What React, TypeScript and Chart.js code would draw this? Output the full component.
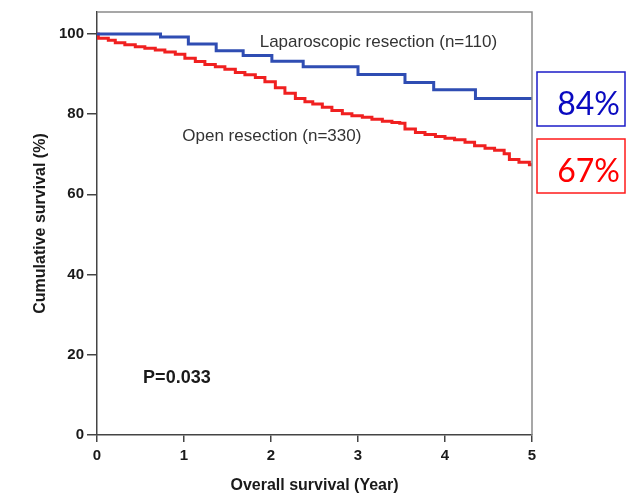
import React, { useEffect, useRef } from "react";
import { Chart, registerables } from "chart.js";

Chart.register(...registerables);

// Kaplan–Meier curves (time in years, survival in %)
const lapTimes = [0, 0.73, 1.05, 1.37, 1.68, 2.01, 2.37, 3.0, 3.54, 3.87, 4.35, 5.0];
const lapSurv = [100, 99.2, 97.5, 95.8, 94.6, 93.2, 91.8, 89.9, 87.9, 86.1, 83.9, 83.9];

const openTimes = [
  0, 0.015, 0.13, 0.21, 0.32, 0.44, 0.55, 0.67, 0.78, 0.9, 1.01, 1.13, 1.24, 1.36, 1.47, 1.59, 1.7, 1.82, 1.93,
  2.05, 2.16, 2.28, 2.39, 2.48, 2.59, 2.7, 2.82, 2.93, 3.05, 3.16, 3.28, 3.39, 3.48, 3.54, 3.66, 3.77, 3.89,
  4.0, 4.11, 4.23, 4.34, 4.46, 4.57, 4.68, 4.74, 4.85, 4.97, 5.0,
];
const openSurv = [
  100, 98.9, 98.4, 97.8, 97.3, 96.8, 96.4, 96.0, 95.5, 94.9, 93.9, 93.1, 92.4, 91.8, 91.2, 90.4, 89.8, 89.1, 88.1,
  86.6, 85.2, 83.9, 83.1, 82.5, 81.7, 80.9, 80.1, 79.6, 79.2, 78.7, 78.2, 77.9, 77.7, 76.3, 75.4, 74.9, 74.4,
  74.0, 73.6, 73.0, 72.1, 71.5, 71.0, 70.1, 68.7, 68.0, 67.4, 67.4,
];

const xTicks = [0, 1, 2, 3, 4, 5];
const yTicks = [0, 20, 40, 60, 80, 100];

const seriesLabels = ["Laparoscopic resection (n=110)", "Open resection (n=330)"];
const labelPositions = [
  [1.87, 97.8],
  [0.98, 74.4],
];
const pValueText = "P=0.033";
const pValuePos = [0.53, 14.1];
const finalLabels = ["84%", "67%"];

const BLUE = "#2f4db3";
const RED = "#f02020";

const toPoints = (xs: number[], ys: number[]) => xs.map((x, i) => ({ x, y: ys[i] }));

const decorPlugin = {
  id: "decor",
  afterDraw(chart: any) {
    const { ctx, chartArea, scales } = chart;
    const xs = scales.x;
    const ys = scales.y;
    ctx.save();
    // top & right frame
    ctx.strokeStyle = "#8a8a8a";
    ctx.lineWidth = 1.5;
    ctx.beginPath();
    ctx.moveTo(chartArea.left, chartArea.top);
    ctx.lineTo(chartArea.right, chartArea.top);
    ctx.lineTo(chartArea.right, chartArea.bottom);
    ctx.stroke();

    // series labels
    ctx.fillStyle = "#333";
    ctx.font = "17px 'Liberation Sans', Arial, sans-serif";
    ctx.textAlign = "left";
    ctx.textBaseline = "middle";
    seriesLabels.forEach((t, i) => {
      ctx.fillText(t, xs.getPixelForValue(labelPositions[i][0]), ys.getPixelForValue(labelPositions[i][1]));
    });
    ctx.fillStyle = "#1a1a1a";
    ctx.font = "bold 18px 'Liberation Sans', Arial, sans-serif";
    ctx.fillText(pValueText, xs.getPixelForValue(pValuePos[0]), ys.getPixelForValue(pValuePos[1]));

    // final survival boxes
    const boxColors = [["#1c1cc8", "#0a0ac0"], ["#ff1a1a", "#ff0000"]];
    const boxTops = [72, 139];
    finalLabels.forEach((t, i) => {
      const left = chartArea.right + 5;
      const w = 88;
      const h = 54;
      const top = boxTops[i];
      ctx.strokeStyle = boxColors[i][0];
      ctx.lineWidth = 1.5;
      ctx.strokeRect(left, top, w, h);
      ctx.fillStyle = boxColors[i][1];
      ctx.font = "32px Lato, 'Open Sans', sans-serif";
      ctx.textAlign = "right";
      ctx.textBaseline = "middle";
      ctx.fillText(t, left + w - 5, top + h / 2 + 6);
    });
    ctx.restore();
  },
};

export default function App() {
  const ref = useRef<HTMLCanvasElement>(null);
  useEffect(() => {
    if (!ref.current) return;
    const chart = new Chart(ref.current, {
      type: "line",
      data: {
        datasets: [
          {
            label: seriesLabels[0],
            data: toPoints(lapTimes, lapSurv),
            borderColor: BLUE,
            borderWidth: 3,
            stepped: "before",
            pointRadius: 0,
            fill: false,
          },
          {
            label: seriesLabels[1],
            data: toPoints(openTimes, openSurv),
            borderColor: RED,
            borderWidth: 3,
            stepped: "before",
            pointRadius: 0,
            fill: false,
          },
        ],
      },
      plugins: [decorPlugin],
      options: {
        animation: false,
        responsive: true,
        maintainAspectRatio: false,
        layout: { padding: { top: 10, right: 106, left: 0, bottom: 0 } },
        plugins: { legend: { display: false }, tooltip: { enabled: false } },
        scales: {
          x: {
            type: "linear",
            min: 0,
            max: 5,
            afterBuildTicks: (s: any) => {
              s.ticks = xTicks.map((v) => ({ value: v }));
            },
            afterFit: (s: any) => {
              s.height = 59;
            },
            grid: { drawOnChartArea: false, drawTicks: true, tickLength: 7, color: "#444", lineWidth: 1.5 },
            border: { display: true, color: "#444", width: 1.5 },
            ticks: {
              color: "#1a1a1a",
              padding: 5,
              font: { family: "'Liberation Sans', Arial, sans-serif", size: 15, weight: "bold" },
            },
            title: {
              display: true,
              text: "Overall survival (Year)",
              color: "#1a1a1a",
              font: { family: "'Liberation Sans', Arial, sans-serif", size: 16, weight: "bold" },
              padding: { top: 0, bottom: -1 },
            },
          },
          y: {
            type: "linear",
            min: 0,
            max: 105.46,
            afterBuildTicks: (s: any) => {
              s.ticks = yTicks.map((v) => ({ value: v }));
            },
            afterFit: (s: any) => {
              s.width = 97;
            },
            grid: { drawOnChartArea: false, drawTicks: true, tickLength: 10, color: "#444", lineWidth: 1.5 },
            border: { display: true, color: "#444", width: 1.5 },
            ticks: {
              color: "#1a1a1a",
              padding: 3,
              font: { family: "'Liberation Sans', Arial, sans-serif", size: 15, weight: "bold" },
            },
            title: {
              display: true,
              text: "Cumulative survival (%)",
              color: "#1a1a1a",
              font: { family: "'Liberation Sans', Arial, sans-serif", size: 16, weight: "bold" },
              padding: { top: 31, bottom: 0 },
            },
          },
        },
      },
    } as any);
    return () => chart.destroy();
  }, []);
  return (
    <div style={{ position: "fixed", left: 0, top: 0, width: 638, height: 494, background: "#fff" }}>
      <canvas ref={ref} />
    </div>
  );
}
